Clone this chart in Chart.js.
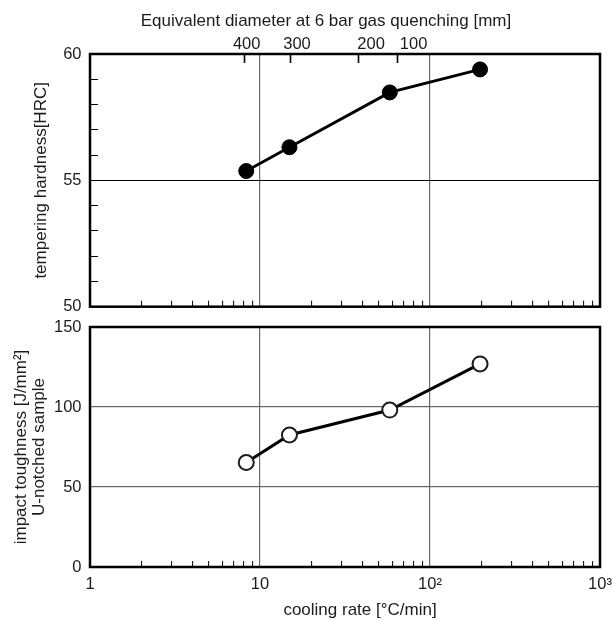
<!DOCTYPE html>
<html>
<head>
<meta charset="utf-8">
<script src="https://cdn.jsdelivr.net/npm/chart.js@4.4.1/dist/chart.umd.min.js"></script>
<style>
  html, body { margin: 0; padding: 0; background: #fff; }
  #wrap { position: relative; width: 613px; height: 621px; overflow: hidden; }
  canvas { position: absolute; left: 0; }
  #hard { top: 0; }
  #tough { top: 317px; }
</style>
</head>
<body>
<div id="wrap">
  <canvas id="hard" width="613" height="317"></canvas>
  <canvas id="tough" width="613" height="304"></canvas>
</div>
<script>
// Cooling rate of each sample [°C/min]
const coolingRate = [8.3, 14.9, 58, 197];
// Tempering hardness [HRC]
const hardness = [55.37, 56.31, 58.48, 59.39];
// Impact toughness of the U-notched sample [J/mm²]
const toughness = [65.3, 82.5, 98.1, 126.9];

// Equivalent diameter at 6 bar gas quenching, placed on the cooling-rate scale
const diameterLabels = ['400', '300', '200', '100'];
const diameterMarkRate = [8.1, 15.2, 38.1, 64.5];
const diameterTextRate = [8.35, 16.5, 45.0, 80.1];

// Cooling-rate axis ticks
const rateDecades = [1, 10, 100, 1000];
const rateDecadeLabels = ['1', '10', '10²', '10³'];
const rateMinorSteps = [2, 3, 4, 5, 6, 7, 8, 9];
const rateGridLines = [10, 100];

// Hardness axis ticks
const hardnessTicks = [50, 51, 52, 53, 54, 55, 56, 57, 58, 59, 60];
const hardnessLabelled = [50, 55, 60];
const hardnessGridLines = [55];

// Toughness axis ticks
const toughnessTicks = [0, 50, 100, 150];
const toughnessGridLines = [50, 100];

const FAMILY = "'Liberation Sans', Arial, Helvetica, sans-serif";
const TEXT = '#1c1c1c';
const GRID = '#6b6b6b';

Chart.defaults.font.family = FAMILY;
Chart.defaults.font.size = 16.5;
Chart.defaults.color = TEXT;

const rateTicks = rateDecades.slice(0, -1)
  .flatMap(d => [d].concat(rateMinorSteps.map(s => s * d)))
  .concat(rateDecades.slice(-1));

function rateAxis(showLabels) {
  return {
    type: 'logarithmic',
    axis: 'x',
    position: 'bottom',
    min: 1,
    max: 1000,
    afterBuildTicks: s => { s.ticks = rateTicks.map(v => ({ value: v })); },
    ticks: {
      display: showLabels,
      autoSkip: false,
      maxRotation: 0,
      padding: 14,
      callback: v => {
        const i = rateDecades.indexOf(v);
        return i < 0 ? '' : rateDecadeLabels[i];
      }
    },
    grid: {
      drawTicks: true,
      tickLength: -6,
      lineWidth: 1.2,
      color: c => (c.tick && rateGridLines.includes(c.tick.value)) ? GRID : 'rgba(0,0,0,0)',
      tickColor: c => (c.tick && rateDecades.includes(c.tick.value)) ? 'rgba(0,0,0,0)' : '#000',
      tickWidth: 1
    },
    border: { display: false },
    afterFit: s => {
      s.height = showLabels ? 54 : 0;
      s.paddingLeft = 0;
      s.paddingRight = 0;
    }
  };
}

// Thick black frame round the plot area
const frame = {
  id: 'frame',
  afterDatasetsDraw(chart) {
    const { ctx, chartArea: a } = chart;
    ctx.save();
    ctx.strokeStyle = '#000';
    ctx.lineWidth = 2.5;
    ctx.strokeRect(a.left, a.top, a.right - a.left, a.bottom - a.top);
    ctx.restore();
  }
};

// Upper axis caption and diameter labels
const diameterText = {
  id: 'diameterText',
  afterDraw(chart) {
    const { ctx, chartArea: a } = chart;
    const sc = chart.scales.xTop;
    ctx.save();
    ctx.fillStyle = TEXT;
    ctx.textAlign = 'center';
    ctx.textBaseline = 'alphabetic';
    ctx.font = '17px ' + FAMILY;
    ctx.fillText('Equivalent diameter at 6 bar gas quenching [mm]', (a.left + a.right) / 2 - 19, 26);
    ctx.font = '16.5px ' + FAMILY;
    diameterLabels.forEach((t, i) => {
      ctx.fillText(t, sc.getPixelForValue(diameterTextRate[i]), a.top - 5);
    });
    ctx.restore();
  }
};

// Caption of the cooling-rate axis
const rateTitle = {
  id: 'rateTitle',
  afterDraw(chart) {
    const { ctx, chartArea: a } = chart;
    ctx.save();
    ctx.fillStyle = TEXT;
    ctx.textAlign = 'center';
    ctx.textBaseline = 'alphabetic';
    ctx.font = '17px ' + FAMILY;
    ctx.fillText('cooling rate [°C/min]', (a.left + a.right) / 2 + 15, a.bottom + 47.5);
    ctx.restore();
  }
};

const common = {
  responsive: false,
  animation: false,
  devicePixelRatio: 1,
  plugins: { legend: { display: false }, tooltip: { enabled: false }, title: { display: false } }
};

new Chart(document.getElementById('hard'), {
  type: 'scatter',
  data: {
    datasets: [{
      data: coolingRate.map((x, i) => ({ x, y: hardness[i] })),
      xAxisID: 'x',
      yAxisID: 'y',
      showLine: true,
      tension: 0,
      borderColor: '#000',
      borderWidth: 3,
      pointRadius: 7.5,
      pointBackgroundColor: '#000',
      pointBorderColor: '#000',
      pointBorderWidth: 1
    }]
  },
  options: Object.assign({}, common, {
    layout: { padding: { top: 54, right: 13, bottom: 10.3, left: 0 } },
    scales: {
      x: rateAxis(false),
      xTop: {
        type: 'logarithmic',
        axis: 'x',
        position: 'top',
        min: 1,
        max: 1000,
        afterBuildTicks: s => { s.ticks = diameterMarkRate.map(v => ({ value: v })); },
        ticks: { display: false },
        grid: {
          drawOnChartArea: false,
          drawTicks: true,
          tickLength: -9,
          tickColor: '#000',
          tickWidth: 1.6
        },
        border: { display: false },
        afterFit: s => { s.height = 0; s.paddingLeft = 0; s.paddingRight = 0; }
      },
      y: {
        type: 'linear',
        position: 'left',
        min: 50,
        max: 60,
        afterBuildTicks: s => { s.ticks = hardnessTicks.map(v => ({ value: v })); },
        ticks: {
          autoSkip: false,
          padding: 16.5,
          callback: v => hardnessLabelled.includes(v) ? String(v) : ''
        },
        grid: {
          drawTicks: true,
          tickLength: -8,
          lineWidth: 1,
          color: c => (c.tick && hardnessGridLines.includes(c.tick.value)) ? '#000' : 'rgba(0,0,0,0)',
          tickColor: c => (c.tick && hardnessLabelled.includes(c.tick.value)) ? 'rgba(0,0,0,0)' : '#000',
          tickWidth: 1
        },
        border: { display: false },
        title: {
          display: true,
          text: 'tempering hardness[HRC]',
          color: TEXT,
          font: { size: 17, lineHeight: 1.2 },
          padding: { top: 30.8, bottom: 0 }
        },
        afterFit: s => { s.width = 90; s.paddingTop = 0; s.paddingBottom = 0; }
      }
    }
  }),
  plugins: [frame, diameterText]
});

new Chart(document.getElementById('tough'), {
  type: 'scatter',
  data: {
    datasets: [{
      data: coolingRate.map((x, i) => ({ x, y: toughness[i] })),
      xAxisID: 'x',
      yAxisID: 'y',
      showLine: true,
      tension: 0,
      borderColor: '#000',
      borderWidth: 3,
      pointRadius: 7.5,
      pointBackgroundColor: '#fff',
      pointBorderColor: '#1c1c1c',
      pointBorderWidth: 2
    }]
  },
  options: Object.assign({}, common, {
    layout: { padding: { top: 10, right: 13, bottom: 0, left: 0 } },
    scales: {
      x: rateAxis(true),
      y: {
        type: 'linear',
        position: 'left',
        min: 0,
        max: 150,
        afterBuildTicks: s => { s.ticks = toughnessTicks.map(v => ({ value: v })); },
        ticks: { autoSkip: false, padding: 8.5 },
        grid: {
          drawTicks: false,
          lineWidth: 1.2,
          color: c => (c.tick && toughnessGridLines.includes(c.tick.value)) ? GRID : 'rgba(0,0,0,0)'
        },
        border: { display: false },
        title: {
          display: true,
          text: ['impact toughness [J/mm²]', 'U-notched sample'],
          color: TEXT,
          font: { size: 17, lineHeight: 1.05 },
          padding: { top: 12.6, bottom: 0 }
        },
        afterFit: s => { s.width = 90; s.paddingTop = 0; s.paddingBottom = 0; }
      }
    }
  }),
  plugins: [frame, rateTitle]
});
</script>
</body>
</html>
